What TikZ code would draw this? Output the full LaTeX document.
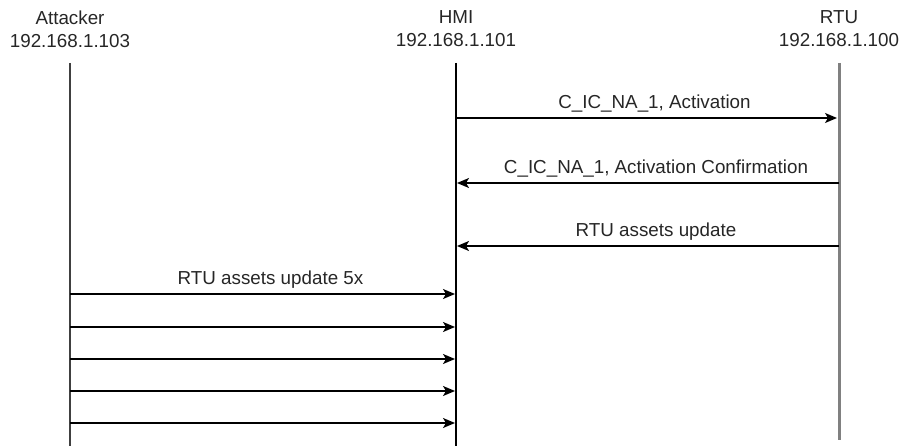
\documentclass[tikz,border=0pt]{standalone}
\usepackage{fontspec}
\setmainfont{Liberation Sans}
\usetikzlibrary{arrows.meta}
\begin{document}
\begin{tikzpicture}[x=1pt, y=-1pt,
		every node/.style={font=\fontsize{18.8}{23}\selectfont, inner sep=0pt, text=black!85},
		party/.style={align=center},
		lifeline/.style={line width=1.5pt, black},
		msg/.style={line width=1.5pt, -{Stealth[length=12pt, width=10pt, inset=3pt]}},
		label/.style={above=5pt, xshift=8pt}
		]
	\useasboundingbox (0,0) rectangle (904,446);
	% participants
	\node[party] (attacker) at (70,29) {Attacker\\192.168.1.103};
	\node[party] (hmi) at (456,29) {HMI\\192.168.1.101};
	\node[party] (rtu) at (839,29) {RTU\\192.168.1.100};
	\coordinate (attacker-end) at (70,446);
	\coordinate (hmi-end) at (456,446);
	\coordinate (rtu-end) at (839,440);
	\draw[lifeline, line width=2pt, black!75] (attacker |- 0,63) -- (attacker-end);
	\draw[lifeline] (hmi |- 0,63) -- (hmi-end);
	\draw[lifeline, line width=3pt, black!50] (rtu |- 0,63) -- (rtu-end);
	% HMI <-> RTU
	\draw[msg] (hmi |- 0,118) -- node[label] {C\_IC\_NA\_1, Activation} ([xshift=-2pt]rtu |- 0,118);
	\draw[msg] (rtu |- 0,183) -- node[label] {C\_IC\_NA\_1, Activation Confirmation} ([xshift=1pt]hmi |- 0,183);
	\draw[msg] (rtu |- 0,246) -- node[label] {RTU assets update} ([xshift=1pt]hmi |- 0,246);
	% Attacker -> HMI
	\draw[msg] (attacker |- 0,294) -- node[label] {RTU assets update 5x} ([xshift=-1pt]hmi |- 0,294);
	\draw[msg] (attacker |- 0,327) -- ([xshift=-1pt]hmi |- 0,327);
	\draw[msg] (attacker |- 0,359) -- ([xshift=-1pt]hmi |- 0,359);
	\draw[msg] (attacker |- 0,391) -- ([xshift=-1pt]hmi |- 0,391);
	\draw[msg] (attacker |- 0,423) -- ([xshift=-1pt]hmi |- 0,423);
\end{tikzpicture}
\end{document}
